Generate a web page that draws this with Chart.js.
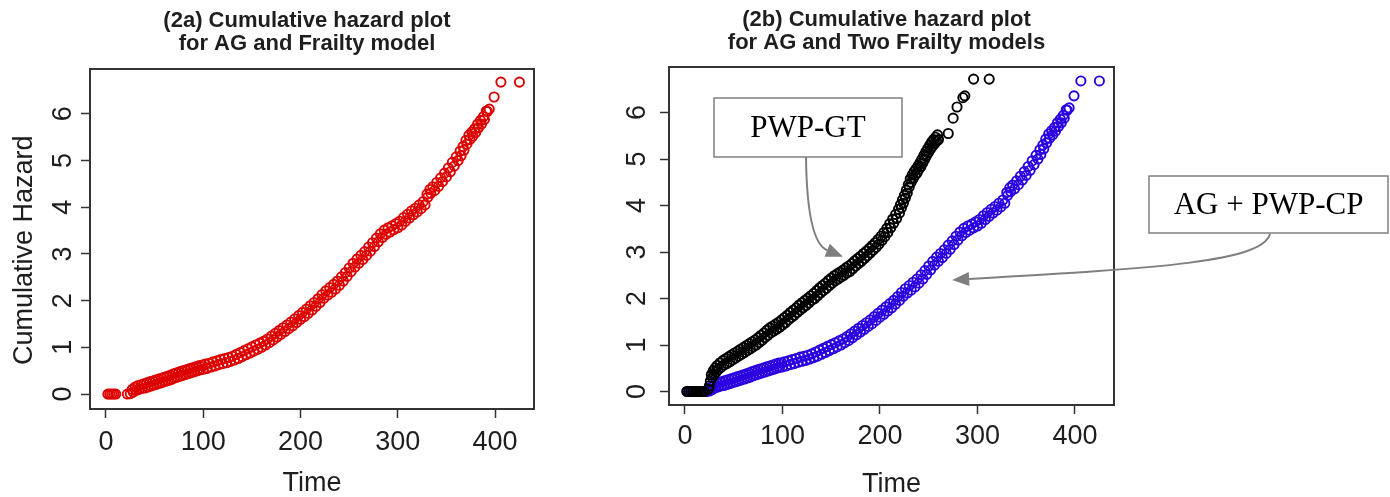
<!DOCTYPE html>
<html lang="en">
<head>
<meta charset="UTF-8">
<title>Cumulative hazard plots</title>
<script src="https://cdn.jsdelivr.net/npm/chart.js"></script>
<style>
  body { margin: 0; background: #fff; }
  #wrap { position: relative; width: 1390px; height: 497px; overflow: hidden; }
  canvas { position: absolute; top: 0; }
  #left { left: 0; }
  #right { left: 600px; }
</style>
</head>
<body>
<div id="wrap">
  <canvas id="left" width="600" height="497"></canvas>
  <canvas id="right" width="790" height="497"></canvas>
</div>
<script>
// AG (+ frailty / PWP-CP) cumulative hazard: middle of the band
const agTime = [2, 4, 6, 8, 10, 22, 25, 28, 31, 34, 37, 40, 43, 46, 49, 52, 55, 58, 61, 64, 67, 70, 73, 76, 79, 82, 85, 88, 91, 94, 97, 100,
  104, 108, 112, 116, 120, 124, 128, 132, 136, 140, 144, 148, 152, 156, 160, 164, 168, 172, 176, 180, 184, 188, 192, 196, 200,
  204, 208, 212, 216, 220, 224, 228, 232, 236, 240, 244, 248, 252, 256, 260, 264, 268, 272, 276, 280, 284, 288, 292, 296, 300,
  304, 308, 312, 316, 320, 324, 328, 331, 334, 338, 342, 346, 350, 354, 358, 362, 365, 368, 371, 374, 377, 380, 383, 386, 389,
  392, 394, 399, 406, 425];
const agHazard = [0, 0, 0, 0, 0, 0, 0.01, 0.04, 0.08, 0.1, 0.12, 0.13, 0.15, 0.17, 0.19, 0.21, 0.23, 0.25, 0.27, 0.29, 0.31, 0.34, 0.36, 0.38, 0.4, 0.42, 0.44, 0.46, 0.48, 0.5, 0.52, 0.53,
  0.55, 0.58, 0.6, 0.63, 0.65, 0.67, 0.7, 0.73, 0.76, 0.8, 0.84, 0.88, 0.92, 0.96, 1.0, 1.05, 1.1, 1.16, 1.22, 1.28, 1.34, 1.4, 1.46, 1.53, 1.6,
  1.66, 1.73, 1.8, 1.88, 1.96, 2.05, 2.12, 2.18, 2.25, 2.33, 2.42, 2.52, 2.62, 2.72, 2.8, 2.88, 2.97, 3.06, 3.16, 3.26, 3.35, 3.42, 3.47, 3.52, 3.56,
  3.62, 3.7, 3.77, 3.84, 3.9, 3.97, 4.05, 4.22, 4.3, 4.36, 4.45, 4.55, 4.65, 4.76, 4.88, 5.0, 5.1, 5.22, 5.35, 5.45, 5.52, 5.6, 5.7, 5.78, 5.88,
  6.05, 6.1, 6.36, 6.68, 6.68];
// upper edge of the same band
const agTimeUp = [27, 30, 33, 36, 39, 42, 45, 48, 51, 54, 57, 60, 63, 66, 69, 72, 75, 78, 81, 84, 87, 90, 93, 96, 99, 102,
  106, 110, 114, 118, 122, 126, 130, 134, 138, 142, 146, 150, 154, 158, 162, 166, 170, 174, 178, 182, 186, 190, 194, 198,
  202, 206, 210, 214, 218, 222, 226, 230, 234, 238, 242, 246, 250, 254, 258, 262, 266, 270, 274, 278, 282, 286, 290, 294, 298,
  302, 306, 310, 314, 318, 322, 326, 330, 333, 336, 340, 344, 348, 352, 356, 360, 364, 367, 370, 373, 376, 379, 382, 385, 388, 391];
const agHazardUp = [0.1, 0.15, 0.18, 0.2, 0.22, 0.24, 0.26, 0.28, 0.3, 0.32, 0.34, 0.36, 0.38, 0.4, 0.43, 0.45, 0.47, 0.49, 0.51, 0.53, 0.55, 0.57, 0.59, 0.61, 0.62, 0.64,
  0.66, 0.69, 0.71, 0.74, 0.76, 0.78, 0.81, 0.85, 0.89, 0.93, 0.97, 1.01, 1.05, 1.09, 1.13, 1.18, 1.24, 1.3, 1.36, 1.42, 1.48, 1.54, 1.61, 1.68,
  1.75, 1.82, 1.89, 1.96, 2.04, 2.13, 2.21, 2.28, 2.35, 2.42, 2.51, 2.6, 2.7, 2.8, 2.89, 2.97, 3.05, 3.15, 3.24, 3.34, 3.43, 3.51, 3.56, 3.6, 3.65,
  3.7, 3.78, 3.85, 3.92, 3.98, 4.05, 4.12, 4.28, 4.38, 4.44, 4.53, 4.63, 4.73, 4.84, 4.96, 5.08, 5.2, 5.3, 5.43, 5.54, 5.61, 5.68, 5.78, 5.86, 5.94, 6.06];

// PWP-GT cumulative hazard: middle of the band
const gtTime = [2, 4, 6, 8, 10, 12, 14, 16, 18, 20, 24, 26, 28, 30, 32, 34, 37, 40, 43, 46, 49, 52, 55, 58, 61, 64, 67, 70, 73, 76, 79, 82, 85, 88,
  91, 94, 97, 100, 103, 106, 109, 112, 115, 118, 121, 124, 127, 130, 133, 136, 139, 142, 145, 148, 151, 154, 157, 160, 163, 166, 169,
  172, 175, 178, 181, 184, 187, 190, 193, 196, 199, 202, 205, 208, 211, 214, 217, 220, 222, 224, 226, 228, 230, 232, 234, 236, 238,
  240, 242, 244, 246, 248, 250, 252, 254, 256, 258, 260, 270, 275, 279, 285, 287, 296, 312];
const gtHazard = [0, 0, 0, 0, 0, 0, 0, 0, 0, 0, 0.05, 0.22, 0.3, 0.36, 0.42, 0.47, 0.52, 0.57, 0.6, 0.64, 0.68, 0.72, 0.76, 0.8, 0.84, 0.88, 0.92, 0.96, 1.0, 1.05, 1.1, 1.16, 1.21, 1.26,
  1.3, 1.34, 1.38, 1.43, 1.48, 1.54, 1.59, 1.64, 1.7, 1.75, 1.8, 1.85, 1.9, 1.96, 2.0, 2.06, 2.12, 2.17, 2.22, 2.28, 2.33, 2.38, 2.42, 2.46, 2.5, 2.55, 2.58,
  2.64, 2.7, 2.75, 2.8, 2.86, 2.92, 2.98, 3.04, 3.1, 3.17, 3.25, 3.33, 3.42, 3.52, 3.62, 3.72, 3.84, 3.95, 4.05, 4.16, 4.27, 4.4, 4.5, 4.58, 4.65, 4.7,
  4.78, 4.84, 4.92, 5.0, 5.08, 5.15, 5.22, 5.28, 5.33, 5.38, 5.42, 5.55, 5.88, 6.12, 6.32, 6.36, 6.72, 6.72];
// upper edge of the same band
const gtTimeUp = [25, 27, 29, 31, 33, 36, 39, 42, 45, 48, 51, 54, 57, 60, 63, 66, 69, 72, 75, 78, 81, 84, 87, 90, 93, 96, 99,
  102, 105, 108, 111, 114, 117, 120, 123, 126, 129, 132, 135, 138, 141, 144, 147, 150, 153, 156, 159, 162, 165, 168, 171, 174,
  177, 180, 183, 186, 189, 192, 195, 198, 201, 204, 207, 210, 213, 216, 219, 221, 223, 225, 227, 229, 231, 233, 235, 237, 239,
  241, 243, 245, 247, 249, 251, 253, 255, 257, 259];
const gtHazardUp = [0.12, 0.36, 0.45, 0.51, 0.56, 0.62, 0.67, 0.71, 0.75, 0.79, 0.83, 0.87, 0.91, 0.95, 0.99, 1.03, 1.07, 1.11, 1.16, 1.21, 1.26, 1.32, 1.37, 1.41, 1.45, 1.49, 1.54,
  1.59, 1.64, 1.7, 1.75, 1.8, 1.86, 1.91, 1.96, 2.01, 2.06, 2.11, 2.17, 2.23, 2.28, 2.33, 2.39, 2.44, 2.49, 2.53, 2.57, 2.61, 2.66, 2.7, 2.75, 2.81,
  2.86, 2.91, 2.97, 3.02, 3.08, 3.14, 3.2, 3.27, 3.34, 3.42, 3.51, 3.61, 3.71, 3.81, 3.92, 4.02, 4.12, 4.22, 4.33, 4.45, 4.57, 4.66, 4.73, 4.79, 4.85,
  4.92, 5.0, 5.08, 5.16, 5.23, 5.3, 5.37, 5.42, 5.47, 5.52];

const xTicks = [0, 100, 200, 300, 400];
const yTicks = [0, 1, 2, 3, 4, 5, 6];
const leftTitle = ['(2a) Cumulative hazard plot', 'for AG and Frailty model'];
const rightTitle = ['(2b) Cumulative hazard plot', 'for AG and Two Frailty models'];

const SANS = '"Liberation Sans", Arial, sans-serif';
const SERIF = '"Liberation Serif", "Times New Roman", serif';
const INK = '#1e1e1e';

function toPoints(xs, ys) {
  return xs.map((t, i) => ({ x: t, y: ys[i] }));
}

function series(label, xs, ys, xs2, ys2, color) {
  return {
    label: label,
    data: toPoints(xs, ys).concat(toPoints(xs2, ys2)),
    borderColor: color,
    backgroundColor: 'rgba(0,0,0,0)',
    pointStyle: 'circle',
    pointRadius: 4.6,
    pointHoverRadius: 4.6,
    pointBorderWidth: 1.9,
    showLine: false
  };
}

// box around the plot region + the two-line bold title
const framePlugin = {
  id: 'frame',
  afterDraw(chart, args, opts) {
    const { ctx, chartArea: a } = chart;
    ctx.save();
    ctx.strokeStyle = '#333';
    ctx.lineWidth = 2;
    ctx.strokeRect(a.left, a.top, a.right - a.left, a.bottom - a.top);
    ctx.fillStyle = INK;
    ctx.font = 'bold 22px ' + SANS;
    ctx.textAlign = 'center';
    ctx.textBaseline = 'middle';
    const cx = (a.left + a.right) / 2 + opts.shift;
    opts.lines.forEach((t, i) => ctx.fillText(t, cx, opts.firstY + i * opts.gap));
    ctx.restore();
  }
};

// labelled boxes with curved arrows (right panel)
const notesPlugin = {
  id: 'notes',
  afterDraw(chart, args, opts) {
    if (!opts.items) return;
    const { ctx, scales: { x, y } } = chart;
    ctx.save();
    opts.items.forEach(n => {
      ctx.fillStyle = '#fff';
      ctx.fillRect(n.box[0], n.box[1], n.box[2], n.box[3]);
      ctx.strokeStyle = '#808080';
      ctx.lineWidth = 1.5;
      ctx.strokeRect(n.box[0], n.box[1], n.box[2], n.box[3]);
      ctx.fillStyle = '#000';
      ctx.font = '31px ' + SERIF;
      ctx.textAlign = 'center';
      ctx.textBaseline = 'middle';
      ctx.fillText(n.text, n.box[0] + n.box[2] / 2, n.box[1] + n.box[3] / 2 + 1);

      const tx = x.getPixelForValue(n.tip[0]);
      const ty = y.getPixelForValue(n.tip[1]);
      const c = n.ctrl;
      const last = c[c.length - 1];
      const ang = Math.atan2(ty - last[1], tx - last[0]);
      const len = 17, half = 7;
      const bx = tx - len * Math.cos(ang), by = ty - len * Math.sin(ang);
      ctx.strokeStyle = '#7f7f7f';
      ctx.lineWidth = 2;
      ctx.beginPath();
      ctx.moveTo(n.from[0], n.from[1]);
      if (c.length === 1) ctx.quadraticCurveTo(c[0][0], c[0][1], bx, by);
      else ctx.bezierCurveTo(c[0][0], c[0][1], c[1][0], c[1][1], bx, by);
      ctx.stroke();
      ctx.fillStyle = '#7f7f7f';
      ctx.beginPath();
      ctx.moveTo(tx, ty);
      ctx.lineTo(bx + half * Math.sin(ang), by - half * Math.cos(ang));
      ctx.lineTo(bx - half * Math.sin(ang), by + half * Math.cos(ang));
      ctx.closePath();
      ctx.fill();
    });
    ctx.restore();
  }
};

function makePanel(id, datasets, cfg) {
  const tickFont = { family: SANS, size: 27, lineHeight: 1 };
  const grid = { display: true, drawOnChartArea: false, drawTicks: true, tickLength: 9, tickWidth: 1.5, tickColor: '#333' };
  return new Chart(document.getElementById(id), {
    type: 'scatter',
    data: { datasets: datasets },
    plugins: [framePlugin, notesPlugin],
    options: {
      responsive: false,
      animation: false,
      events: [],
      layout: { padding: { left: 0, top: cfg.top, right: cfg.right, bottom: 0 } },
      plugins: {
        legend: { display: false },
        title: { display: false },
        tooltip: { enabled: false },
        frame: { lines: cfg.title, shift: -5, firstY: cfg.titleY, gap: 23 },
        notes: { items: cfg.notes }
      },
      scales: {
        x: {
          type: 'linear',
          min: cfg.xMin,
          max: cfg.xMax,
          afterBuildTicks: s => { s.ticks = xTicks.map(v => ({ value: v })); },
          afterFit: s => { s.height = cfg.xAxisHeight; },
          grid: grid,
          border: { display: false },
          ticks: { font: tickFont, color: INK, padding: cfg.xTickPad, maxRotation: 0, autoSkip: false, callback: v => String(v) },
          title: { display: true, text: 'Time', color: INK, font: { family: SANS, size: 27, lineHeight: 1 }, padding: { top: 0, bottom: cfg.timePad } }
        },
        y: {
          type: 'linear',
          min: cfg.yMin,
          max: cfg.yMax,
          afterBuildTicks: s => { s.ticks = yTicks.map(v => ({ value: v })); },
          afterFit: s => { s.width = cfg.yAxisWidth; },
          grid: grid,
          border: { display: false },
          ticks: { font: tickFont, color: INK, padding: cfg.yTickPad, minRotation: 90, maxRotation: 90, crossAlign: 'center', autoSkip: false, callback: v => String(v) },
          // trailing spaces push the rotated label a little lower, as in the original
          title: { display: !!cfg.yTitle, text: (cfg.yTitle || '') + '   ', color: INK, font: { family: SANS, size: 27, lineHeight: 1 }, padding: { top: 11, bottom: 0 } }
        }
      }
    }
  });
}

makePanel('left', [series('AG + Frailty', agTime, agHazard, agTimeUp, agHazardUp, '#dd0000')], {
  top: 69, right: 600 - 534, xAxisHeight: 497 - 409, yAxisWidth: 90,
  xMin: -16.4, xMax: 440, yMin: -0.32, yMax: 6.96,
  xTickPad: 11, yTickPad: 10, timePad: 0, yTitle: 'Cumulative Hazard',
  title: leftTitle, titleY: 21,
  notes: null
});

makePanel('right', [
  series('PWP-GT', gtTime, gtHazard, gtTimeUp, gtHazardUp, '#000000'),
  series('AG + PWP-CP', agTime, agHazard, agTimeUp, agHazardUp, '#2b00e0')
], {
  top: 67, right: 790 - 514, xAxisHeight: 497 - 405, yAxisWidth: 69,
  xMin: -16.4, xMax: 440, yMin: -0.29, yMax: 6.98,
  xTickPad: 9, yTickPad: 15, timePad: -1.5, yTitle: null,
  title: rightTitle, titleY: 20,
  notes: [
    { text: 'PWP-GT', box: [114, 98, 188, 59], from: [206, 157], ctrl: [[207, 242]], tip: [162, 2.9] },
    { text: 'AG + PWP-CP', box: [549, 176, 239, 57], from: [670, 234], ctrl: [[662, 262], [560, 268]], tip: [274, 2.4] }
  ]
});
</script>
</body>
</html>
